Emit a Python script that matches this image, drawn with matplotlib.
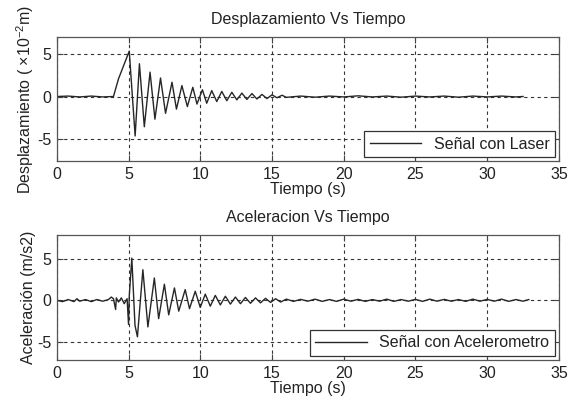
import matplotlib
matplotlib.use('Agg')
import matplotlib.pyplot as plt

plt.rcParams['font.family'] = ['Liberation Sans', 'DejaVu Sans']
plt.rcParams['mathtext.fontset'] = 'custom'
plt.rcParams['mathtext.rm'] = 'Liberation Sans'
plt.rcParams['mathtext.it'] = 'Liberation Sans:italic'
plt.rcParams['axes.unicode_minus'] = False

# desplazamiento (x10^-2 m): tiempos y valores de picos
disp_t = [0, 0.8, 1.6, 2.4, 3.2, 3.95, 4.3, 5.05, 5.46, 5.76, 6.1, 6.5, 6.84,
          7.23, 7.58, 8.03, 8.34, 8.72, 9.1, 9.48, 9.77, 10.15, 10.45, 10.8,
          11.15, 11.5, 11.85, 12.2, 12.55, 12.9, 13.25, 13.6, 13.95, 14.3,
          14.65, 15.0, 15.35, 15.7, 16.0, 17.0, 18.0, 19.0, 20.0, 21.0, 22.0,
          23.0, 24.0, 25.0, 26.0, 27.0, 28.0, 29.0, 30.0, 31.0, 32.0, 32.5]
disp_v = [0, 0.05, -0.05, 0.05, -0.05, 0, 2.1, 5.4, -4.7, 3.9, -3.6, 2.9, -2.7,
          2.2, -2.0, 1.7, -1.5, 1.3, -1.2, 1.1, -0.9, 0.8, -0.8, 0.7,
          -0.6, 0.6, -0.5, 0.5, -0.4, 0.4, -0.35, 0.35, -0.3, 0.25,
          -0.25, 0.2, -0.15, 0.15, -0.1, 0.05, -0.08, 0.05, -0.05, 0.08, -0.05,
          0.05, -0.08, 0.05, -0.05, 0.05, -0.08, 0.05, -0.05, 0.05, -0.05, 0]

# aceleracion (m/s2)
acc_t = [0, 0.4, 0.8, 1.2, 1.4, 1.6, 2.0, 2.4, 2.8, 3.2, 3.6, 3.8, 3.95, 4.1,
         4.15, 4.3, 4.5, 4.7, 4.9, 5.0, 5.05, 5.23, 5.45, 5.62, 6.0, 6.35,
         6.8, 7.1, 7.5, 7.8, 8.2, 8.5, 8.95, 9.25, 9.65, 10.0, 10.35, 10.7,
         11.05, 11.4, 11.75, 12.1, 12.45, 12.8, 13.15, 13.5, 13.85, 14.2,
         14.55, 14.9, 15.25, 15.6, 16.0, 16.5, 17.0, 17.5, 18.0, 18.5, 19.0,
         19.5, 20.0, 20.5, 21.0, 21.5, 22.0, 22.5, 23.0, 23.5, 24.0, 24.5,
         25.0, 25.5, 26.0, 26.5, 27.0, 27.5, 28.0, 28.5, 29.0, 29.5, 30.0,
         30.5, 31.0, 31.5, 32.0, 32.5, 32.9]
acc_v = [0, -0.15, 0.1, -0.15, 0.2, -0.1, 0.1, -0.15, 0.1, -0.1, 0.1, 0.4, 0.2, -1.1,
         0.3, -0.2, 0.3, -0.4, 0.2, -2.9, 0.5, 5.1, -3.0, -4.4, 3.7, -3.2,
         2.7, -2.2, 1.95, -1.75, 1.5, -1.3, 1.3, -1.0, 1.1, -0.85, 0.75, -0.7,
         0.6, -0.55, 0.5, -0.45, 0.4, -0.4, 0.35, -0.35, 0.3, -0.3,
         0.25, -0.25, 0.2, -0.2, 0.15, -0.12, 0.12, -0.1, 0.15, -0.12, 0.1,
         -0.12, 0.15, -0.1, 0.12, -0.12, 0.1, -0.1, 0.15, -0.12, 0.1, -0.1,
         0.12, -0.12, 0.15, -0.1, 0.12, -0.1, 0.1, -0.12, 0.15, -0.1, 0.12,
         -0.1, 0.15, -0.12, 0.1, -0.1, 0.1]

xticks = [0, 5, 10, 15, 20, 25, 30, 35]
yticks = [-5, 0, 5]

txt = '#222222'
fs = 11.5
fig = plt.figure(figsize=(5.68, 4.05), dpi=100)
ax1 = fig.add_axes([0.100, 0.602, 0.884, 0.307])
ax2 = fig.add_axes([0.100, 0.111, 0.884, 0.309])

panels = [
    (ax1, disp_t, disp_v, 'Desplazamiento Vs Tiempo',
     r'Desplazamiento ( $\mathregular{\times 10^{-2}}$m)', 'Señal con Laser', (-7.7, 7.1)),
    (ax2, acc_t, acc_v, 'Aceleracion Vs Tiempo',
     'Aceleración (m/s2)', 'Señal con Acelerometro', (-7.2, 7.9)),
]

for ax, t, v, title, ylab, lab, ylim in panels:
    ax.plot(t, v, color='#262626', lw=1.0, label=lab)
    ax.set_xlim(0, 35)
    ax.set_ylim(*ylim)
    ax.set_xticks(xticks)
    ax.set_yticks(yticks)
    ax.grid(True, color='#333333', lw=0.8, linestyle=(0, (3, 3)))
    ax.tick_params(direction='in', top=True, right=True, length=4,
                   labelsize=fs, colors='#444444', labelcolor=txt, pad=4)
    for s in ax.spines.values():
        s.set_color('#555555')
        s.set_linewidth(0.9)
    ax.set_title(title, fontsize=fs, color=txt, pad=9)
    ax.set_xlabel('Tiempo (s)', fontsize=fs, color=txt, labelpad=0)
    ax.set_ylabel(ylab, fontsize=fs, color=txt, labelpad=1)
    leg = ax.legend(loc='lower right', fancybox=False, framealpha=1,
                    edgecolor='#333333', fontsize=fs, handlelength=3.2,
                    borderaxespad=0.25, borderpad=0.35, labelcolor=txt)
    leg.get_frame().set_linewidth(0.9)

fig.savefig('out.png', dpi=100)
